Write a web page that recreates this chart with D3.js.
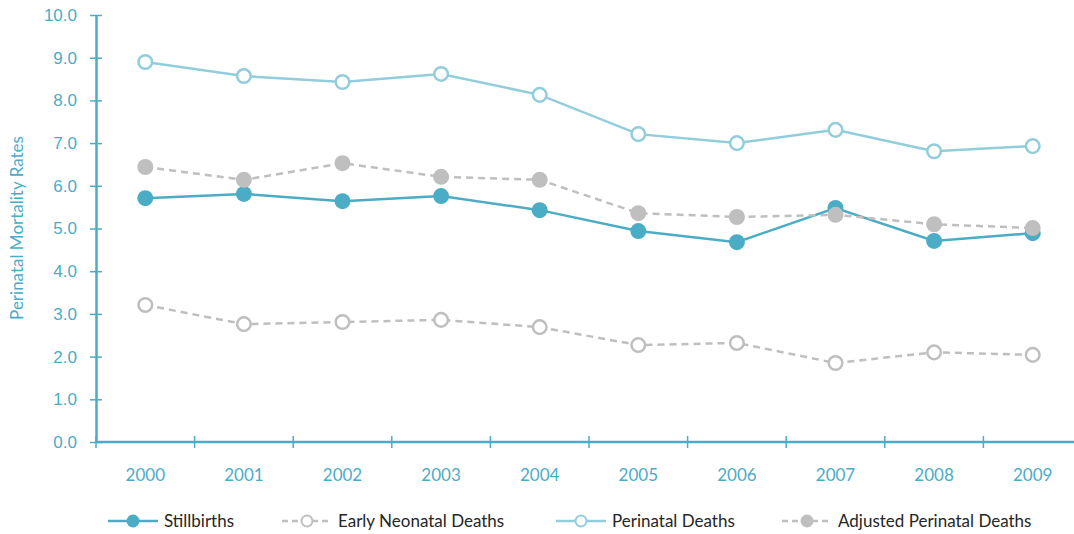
<!DOCTYPE html>
<html>
<head>
<meta charset="utf-8">
<script src="https://cdn.jsdelivr.net/npm/d3@7"></script>
<style>
  html, body { margin: 0; padding: 0; background: #fff; }
  svg { display: block; font-family: Lato, "Open Sans", sans-serif; }
</style>
</head>
<body>
<svg id="chart" width="1074" height="534"></svg>
<script>
// Perinatal mortality rates per 1,000 births, 2000-2009
const years = ["2000", "2001", "2002", "2003", "2004", "2005", "2006", "2007", "2008", "2009"];
const stillbirths = [5.71, 5.81, 5.64, 5.76, 5.43, 4.94, 4.68, 5.48, 4.71, 4.89];
const earlyNeonatal = [3.21, 2.76, 2.81, 2.86, 2.69, 2.27, 2.32, 1.85, 2.10, 2.04];
const perinatal = [8.90, 8.57, 8.43, 8.62, 8.13, 7.21, 7.00, 7.31, 6.81, 6.93];
const adjustedPerinatal = [6.44, 6.14, 6.53, 6.21, 6.14, 5.36, 5.27, 5.32, 5.10, 5.01];
const yTicks = [0, 1, 2, 3, 4, 5, 6, 7, 8, 9, 10];

const teal = "#4BACC6", lightTeal = "#92CDDC", grey = "#BFBFBF";

const series = [
  { name: "Perinatal Deaths", values: perinatal, color: lightTeal, dash: null, filled: false },
  { name: "Early Neonatal Deaths", values: earlyNeonatal, color: grey, dash: "7,5", filled: false },
  { name: "Stillbirths", values: stillbirths, color: teal, dash: null, filled: true },
  { name: "Adjusted Perinatal Deaths", values: adjustedPerinatal, color: grey, dash: "7,5", filled: true }
];
const legendOrder = ["Stillbirths", "Early Neonatal Deaths", "Perinatal Deaths", "Adjusted Perinatal Deaths"];

const svg = d3.select("#chart");
const m = { left: 96, right: 1082, top: 15, bottom: 442 };

const x = d3.scaleBand().domain(years).range([m.left, m.right]);
const y = d3.scaleLinear().domain([0, 10]).range([m.bottom, m.top]);

// Y axis
const yAxis = svg.append("g").attr("transform", `translate(${m.left},0)`)
  .call(d3.axisLeft(y).tickValues(yTicks).tickFormat(d3.format(".1f")).tickSizeInner(6).tickSizeOuter(0).tickPadding(13));
yAxis.select(".domain").attr("stroke", teal).attr("stroke-width", 2.5);
yAxis.selectAll(".tick line").attr("stroke", teal).attr("stroke-width", 1.5).attr("x2", 6).attr("x1", -6);
yAxis.selectAll(".tick text").attr("fill", teal).attr("font-size", 17);

// X axis with ticks at band boundaries
const xAxis = svg.append("g").attr("transform", `translate(0,${m.bottom})`);
xAxis.append("line").attr("x1", m.left).attr("x2", m.right).attr("stroke", teal).attr("stroke-width", 2.5);
const bounds = years.map(d => x(d)).concat([m.right]);
xAxis.selectAll("line.tk").data(bounds).join("line").attr("class", "tk")
  .attr("x1", d => d).attr("x2", d => d).attr("y1", -6).attr("y2", 6)
  .attr("stroke", teal).attr("stroke-width", 1.5);
xAxis.selectAll("text").data(years).join("text")
  .attr("x", d => x(d) + x.bandwidth() / 2).attr("y", 39)
  .attr("text-anchor", "middle").attr("fill", teal).attr("font-size", 17).text(d => d);

// Y axis title
svg.append("text").attr("transform", "translate(23,228) rotate(-90)")
  .attr("text-anchor", "middle").attr("fill", teal).attr("font-size", 17).text("Perinatal Mortality Rates");

// Lines and markers
const cx = i => x(years[i]) + x.bandwidth() / 2;
const line = d3.line().x((d, i) => cx(i)).y(d => y(d));

series.forEach(s => {
  const g = svg.append("g");
  g.append("path").datum(s.values).attr("d", line).attr("fill", "none")
    .attr("stroke", s.color).attr("stroke-width", 2.5).attr("stroke-dasharray", s.dash);
  g.selectAll("circle").data(s.values).join("circle")
    .attr("cx", (d, i) => cx(i)).attr("cy", d => y(d))
    .attr("r", s.filled ? 8 : 6.8)
    .attr("fill", s.filled ? s.color : "#fff")
    .attr("stroke", s.color).attr("stroke-width", s.filled ? 0 : 2.5);
});

// Legend
const legendX = [108, 282, 556, 782];
const legendY = 521;
legendOrder.forEach((name, k) => {
  const s = series.find(d => d.name === name);
  const g = svg.append("g").attr("transform", `translate(${legendX[k]},${legendY})`);
  g.append("line").attr("x1", 0).attr("x2", 50).attr("stroke", s.color).attr("stroke-width", 2.5)
    .attr("stroke-dasharray", s.dash ? "6,4" : null);
  g.append("circle").attr("cx", 25).attr("cy", 0).attr("r", s.filled ? 6.5 : 5.5)
    .attr("fill", s.filled ? s.color : "#fff").attr("stroke", s.color).attr("stroke-width", s.filled ? 0 : 2);
  g.append("text").attr("x", 56).attr("y", 6).attr("fill", "#262626").attr("font-size", 17).text(name);
});
</script>
</body>
</html>
